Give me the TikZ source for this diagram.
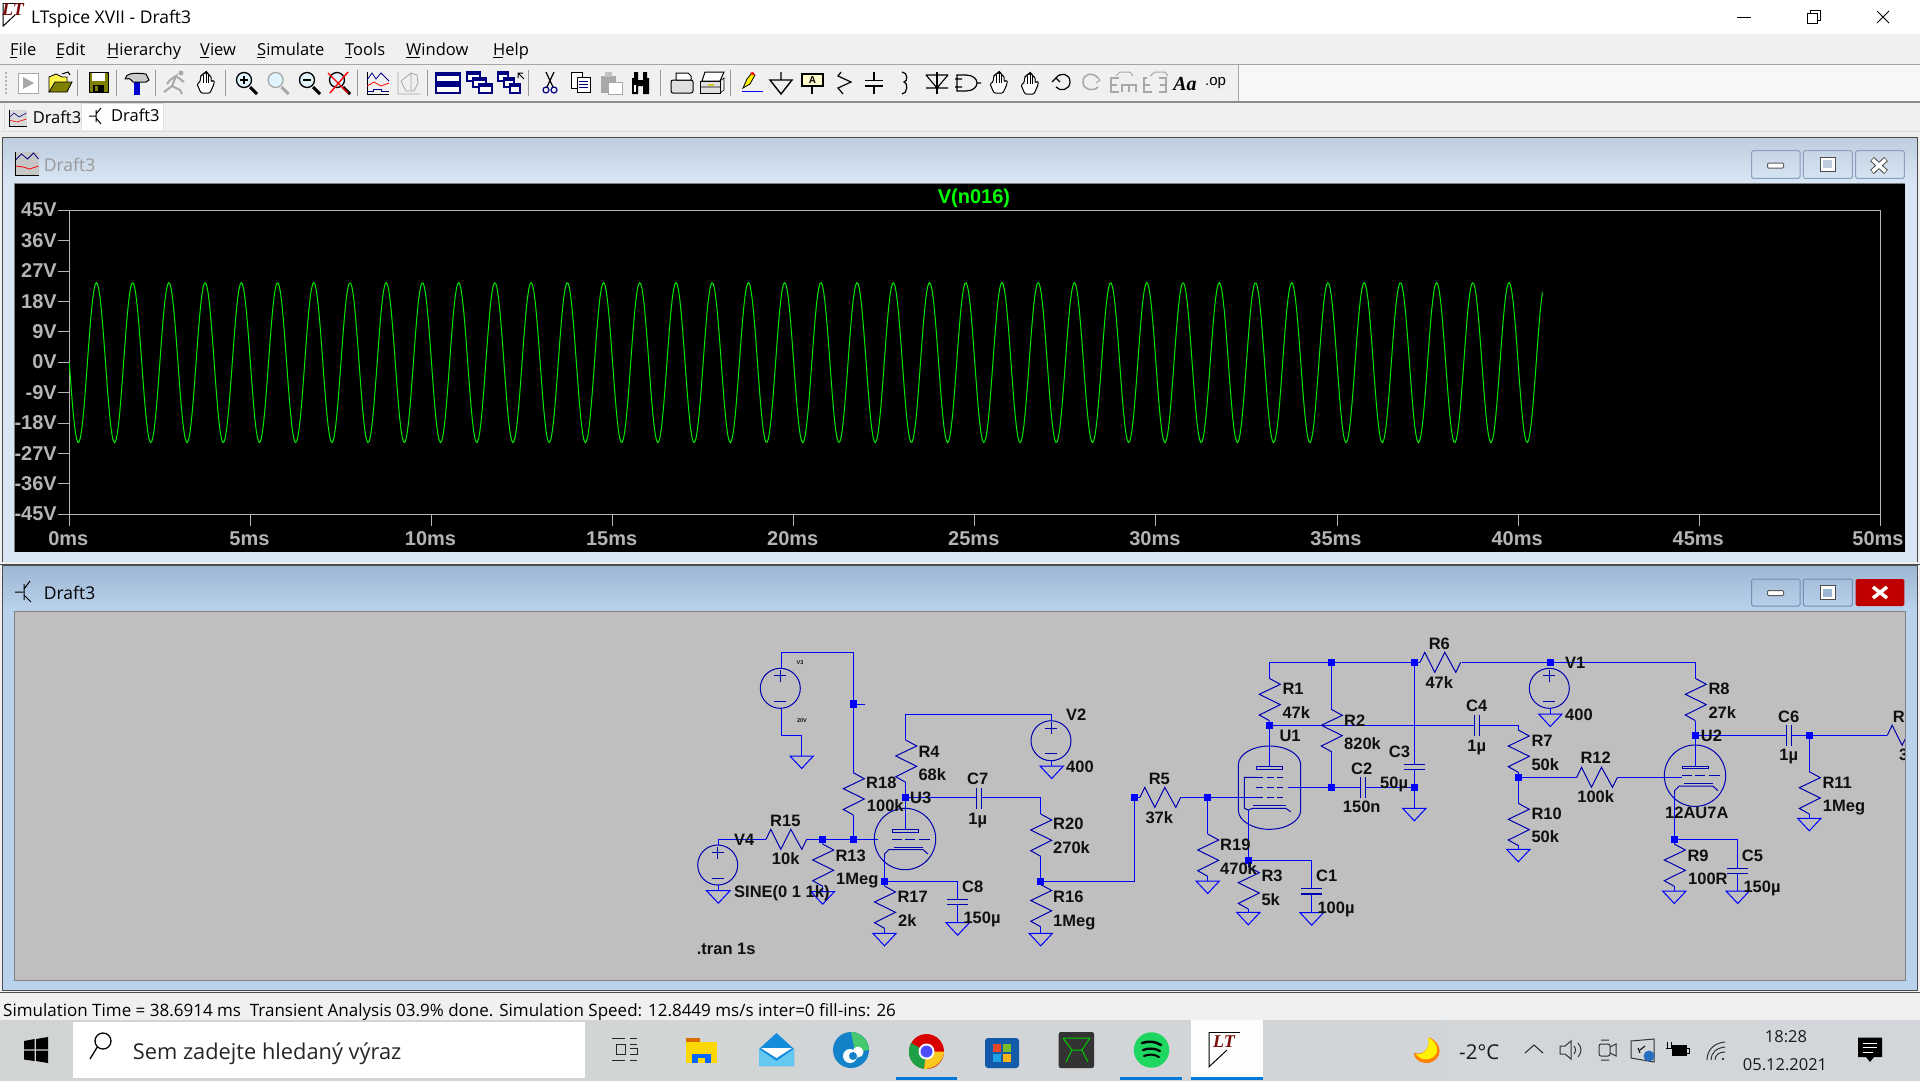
\documentclass[tikz,border=0pt]{standalone}
\usepackage{fontspec}
\setmainfont{Open Sans}
\newfontfamily\schem{Liberation Sans}[Scale=1]
\newfontfamily\serifit{Liberation Serif}
\usetikzlibrary{calc}
\definecolor{wirec}{HTML}{0000FF}
\definecolor{symc}{HTML}{0000B0}
\definecolor{txtc}{HTML}{101010}
\definecolor{chrome}{HTML}{F0F0F0}
\definecolor{axisc}{HTML}{B4B4B4}
\definecolor{navyic}{HTML}{000080}
\definecolor{ltred}{HTML}{7A0C0C}
\definecolor{olive}{HTML}{808000}
\definecolor{grayic}{HTML}{A8A8A8}
\definecolor{tba}{HTML}{BECDDE}
\definecolor{tbb}{HTML}{D8E6F4}
\definecolor{sba}{HTML}{9DB6D3}
\definecolor{sbb}{HTML}{BAD2EC}
\definecolor{btna}{HTML}{8CA0BE}
\definecolor{btnb}{HTML}{788CAF}
\definecolor{schembg}{HTML}{BFBFBF}
\definecolor{grn}{HTML}{00FF00}
\definecolor{tracec}{HTML}{00EB00}
\definecolor{winblue}{HTML}{0078D7}
\definecolor{taska}{HTML}{D0D4D4}
\definecolor{taskb}{HTML}{D2D6DA}
\definecolor{maila}{HTML}{148CDC}
\definecolor{mailb}{HTML}{64C8F0}
\definecolor{edgea}{HTML}{1482C8}
\definecolor{edgeb}{HTML}{46C86E}
\definecolor{chrg}{HTML}{1EA046}
\definecolor{chry}{HTML}{FAC81E}
\definecolor{stb}{HTML}{145AAA}
\definecolor{stc}{HTML}{EB4628}
\definecolor{std}{HTML}{78BE28}
\definecolor{ste}{HTML}{1EA0E6}
\definecolor{stf}{HTML}{FAB414}
\definecolor{spot}{HTML}{1ED760}
\definecolor{trayb}{HTML}{286EBE}
\tikzset{
  wire/.style={draw=wirec,line width=1pt},
  sym/.style={draw=symc,line width=1pt},
  lab/.style={font=\schem\bfseries\fontsize{16.5}{17}\selectfont,text=txtc,inner sep=0pt,anchor=west,text height=11.8pt,text depth=0pt},
  labc/.style={lab,anchor=center},
  tiny/.style={font=\schem\bfseries\fontsize{5.5}{6}\selectfont,text=txtc!80!black,inner sep=0pt},
  axl/.style={font=\schem\bfseries\fontsize{20}{21}\selectfont,text=axisc,inner sep=0pt,text height=14.3pt,text depth=0pt},
  ui/.style={font=\fontsize{16.5}{18}\selectfont,text=black,inner sep=0pt,anchor=west,text height=11.8pt,text depth=0pt},
  ic/.style={line width=1pt,draw=black},
  gi/.style={line width=1pt,draw=grayic},
}
\newcounter{nn}
\newcommand\tl[3]{\stepcounter{nn}\node[lab] (t\thenn) at (#1,#2) {#3};}
\newcommand\tc[3]{\stepcounter{nn}\node[labc] (t\thenn) at (#1,#2) {#3};}
\newcommand\uit[4][]{\stepcounter{nn}\node[ui,#1] (u\thenn) at (#2,#3) {#4};}
\newcommand\resv[2]{\draw[sym] (#1,#2) -- ++(11,6) -- ++(-21,10) -- ++(21,10.3) -- ++(-21,10.4) -- ++(10,5.6);}
\newcommand\resh[2]{\draw[sym] (#1,#2) -- ++(4.8,-10) -- ++(10,20) -- ++(10,-20) -- ++(11,20) -- ++(4.9,-10);}
\newcommand\gnd[2]{\draw[wire] (#1-11.7,#2) -- (#1+11.7,#2) -- (#1,#2+12.5) -- cycle;}
\newcommand\junc[2]{\fill[wirec] (#1-3.6,#2-3.6) rectangle (#1+3.6,#2+3.6);}
\newcommand\vsrc[2]{\draw[sym] (#1,#2) circle[radius=20];
  \draw[sym] (#1-6,#2-12.5) -- (#1+6,#2-12.5) (#1,#2-18.5) -- (#1,#2-6.5) (#1-6,#2+13) -- (#1+6,#2+13);}
\newcommand\capv[2]{\draw[sym] (#1-10.7,#2) -- (#1+10.7,#2) (#1-10.7,#2+5) -- (#1+10.7,#2+5);}
\newcommand\caph[2]{\draw[sym] (#1,#2-10.5) -- (#1,#2+10.5) (#1+5,#2-10.5) -- (#1+5,#2+10.5);}
\newcommand\triode[2]{% centre
  \draw[sym] (#1,#2) circle[radius=30.7];
  \draw[sym] (#1-13,#2-9.5) rectangle (#1+13.5,#2-7);
  \draw[sym] (#1-11,#2+8) -- (#1+18,#2+8);
  \draw[sym] (#1-20.5,#2+19) -- (#1-20.5,#2+15) -- (#1-16,#2+10.5) -- (#1+18,#2+10.5) -- (#1+23,#2+15);
  \draw[sym] (#1-13,#2) -- (#1-3,#2) (#1,#2) -- (#1+10,#2) (#1+14,#2) -- (#1+25,#2);}
\newcommand\magni[3]{\begin{scope}[shift={(#1,82)}]
  \draw[line width=3pt,draw=#2] (4,5) -- (11,12);
  \filldraw[fill=cyan!12,draw=#2,line width=1.3pt] (-2,-2) circle[radius=7.5];
  #3
  \end{scope}}
\newcommand\handic[2]{\begin{scope}[shift={(#1,#2)}]
  \filldraw[fill=white,draw=black,line width=1pt,rounded corners=1.2pt] (-5,10) -- (-9,1) -- (-6,-1) -- (-5,-8) -- (-3,-8) -- (-2.5,-10) -- (-.5,-10) -- (0,-11) -- (2,-10) -- (2.5,-8) -- (5,-7) -- (5,-1) -- (8,-3) -- (8,1) -- (4,10) -- cycle;
  \draw[line width=.7pt] (-2.5,-8) -- (-2.5,0) (0.5,-10) -- (0.5,0) (2.7,-8) -- (2.7,0);
  \end{scope}}
\newcommand\ltlogo[3]{\begin{scope}[shift={(#1,#2)},scale=#3]
  \draw[black,line width=1pt] (0,0) -- (0,29) -- (15,15);
  \draw[black,line width=.8pt] (0,0) -- (26,0);
  \stepcounter{nn}
  \node[inner sep=0pt,text=ltred,font=\serifit\bfseries\itshape\fontsize{18}{18}\selectfont,anchor=center] (lg\thenn) at (12.5,8) {LT};
  \end{scope}}
\begin{document}
\begin{tikzpicture}[x=1pt,y=-1pt]
\useasboundingbox (0,0) rectangle (1920,1080);
\fill[chrome] (0,0) rectangle (1920,1080);
% ---- title bar
\fill[white] (0,0) rectangle (1920,34);
\ltlogo{3}{3}{.8}
\stepcounter{nn}\node[ui,font=\fontsize{17.5}{18}\selectfont,text height=12.5pt] (title) at (31,17) {LTspice XVII - Draft3};
\draw[black,line width=1pt] (1737,17) -- (1751,17);
\draw[black,line width=1pt] (1807,13) rectangle (1817,23) (1810,13) -- (1810,10) -- (1820,10) -- (1820,20) -- (1817,20);
\draw[black,line width=1pt] (1877,11) -- (1889,23) (1889,11) -- (1877,23);
% ---- menu
\uit{10}{50}{File}\uit{56}{50}{Edit}\uit{107}{50}{Hierarchy}\uit{200}{50}{View}\uit{257}{50}{Simulate}\uit{345}{50}{Tools}\uit{406}{50}{Window}\uit{493}{50}{Help}
\draw[black,line width=.8pt] (10,57.5) -- (17,57.5) (56,57.5) -- (63,57.5) (107,57.5) -- (118,57.5) (200,57.5) -- (209,57.5) (257,57.5) -- (265,57.5) (345,57.5) -- (352,57.5) (406,57.5) -- (420,57.5) (493,57.5) -- (503,57.5);
% ---- toolbar band
\fill[white!97!black] (1238,65) rectangle (1920,101);
\draw[gray!70,line width=1pt] (0,64.5) -- (1920,64.5);
\draw[gray!90,line width=1.2pt] (0,102) -- (1920,102);
\draw[gray!70,line width=1pt] (1238,65) -- (1238,101);
\foreach \s in {77.6,116,155,225,357,427,528.6,660,730.6} \draw[gray!80,line width=1pt] (\s,70) -- (\s,96);
\foreach \s in {72,76,80,84,88,92} \fill[gray!60] (5,\s) rectangle (6.5,\s+1.5);
% run
\draw[gi,fill=white] (18,73) rectangle (38,93); \fill[grayic] (23,77) -- (34,83) -- (23,89) -- cycle;
% open
\filldraw[fill=yellow!70!white,draw=black,line width=.8pt] (49,92) -- (49,77) -- (56,74) -- (62,77) -- (67,77) -- (67,83) -- (49,92);
\filldraw[fill=olive,draw=black,line width=.8pt] (49,92) -- (55,82) -- (72,82) -- (67,92) -- cycle;
\draw[black,line width=1pt] (62,74) -- (68,72) -- (70,75);
% save
\filldraw[fill=olive,draw=black,line width=1pt] (89,72) rectangle (108,92);
\fill[white] (92,73) rectangle (105,81); \fill[black] (93,85) rectangle (104,92); \fill[olive] (95,86) rectangle (98,91);
% hammer
\fill[blue!80!black] (134,82) rectangle (140,95);
\filldraw[fill=gray!40,draw=black,line width=1pt] (125,79) .. controls (126,74) and (132,72) .. (146,74) -- (149,80) -- (146,82) -- (141,82) -- (133,82) .. controls (130,78) and (128,78) .. (125,79);
% runner
\draw[gi,line width=2pt] (170,80) -- (176,76) -- (172,86) -- (164,92) (172,86) -- (180,90) -- (182,94) (176,76) -- (184,82) (170,80) -- (167,84);
\fill[grayic] (181,73) circle[radius=2.5];
\handic{206}{83}
% magnifiers
\magni{246}{black}{\draw[black,line width=1.5pt] (-6,-2) -- (2,-2) (-2,-6) -- (-2,2);}
\magni{277.6}{grayic}{}
\magni{309}{black}{\draw[black,line width=1.5pt] (-6,-2) -- (2,-2);}
\magni{339}{black}{\draw[red,line width=1.4pt] (-11,-9) -- (9,11) (-9,11) -- (9,-10);}
% plot icons
\begin{scope}[shift={(378,83)}]
 \draw[black,line width=.8pt] (-11,11) -- (11,11) (-11,-11) -- (-11,11);
 \draw[navyic,line width=.8pt] (-11,-3) -- (-6,-10) -- (-2,-4) -- (3,-10) -- (11,-2);
 \draw[red,line width=.8pt] (-11,3) -- (-4,-1) -- (3,3) -- (11,0);
 \draw[navyic,line width=.8pt] (-11,8) -- (-5,8) -- (-5,6) -- (3,6) -- (3,8) -- (11,8);
\end{scope}
\begin{scope}[shift={(409,83)}]
 \draw[gi,line width=.8pt] (-11,11) -- (11,11) (-11,-11) -- (-11,11) (-8,-2) -- (2,-10) -- (8,-8) -- (9,0) -- (5,8) -- (-3,8) -- cycle (2,-10) -- (2,8);
\end{scope}
% windows
\foreach \a/\b in {72.5/82,83.5/93} {\filldraw[fill=white,draw=navyic,line width=1.6pt] (436,\a) rectangle (460,\b); \fill[navyic] (436,\a) rectangle (460,\a+3);}
\foreach \dx/\dy in {0/0,6/6,12/12} {\filldraw[fill=white,draw=navyic,line width=1.2pt] (467+\dx,72+\dy) rectangle (480+\dx,81+\dy); \fill[navyic] (467+\dx,72+\dy) rectangle (480+\dx,75+\dy);}
\foreach \dx/\dy in {0/0,6/6,12/12} {\filldraw[fill=white,draw=navyic,line width=1.2pt] (498+\dx,72+\dy) rectangle (508+\dx,81+\dy); \fill[navyic] (498+\dx,72+\dy) rectangle (508+\dx,75+\dy);}
\draw[black,line width=1pt] (518,78) -- (518,73) -- (523,73) (518,73) -- (524,79);
% scissors
\draw[black,line width=1.2pt] (546,72) -- (553,87) (554,72) -- (547,87);
\draw[navyic,line width=1.2pt] (546,90) circle[radius=3] (554,90) circle[radius=3];
% copy, paste
\filldraw[fill=white,draw=black,line width=1pt] (571,72) rectangle (582,88);
\filldraw[fill=white,draw=black,line width=1pt] (577,77) rectangle (590,92);
\draw[navyic,line width=.8pt] (579,81) -- (588,81) (579,84) -- (588,84) (579,87) -- (588,87);
\fill[grayic] (601,76) rectangle (616,93); \fill[grayic!70] (605,72) rectangle (612,77);
\filldraw[fill=white,draw=grayic] (608,82) rectangle (622,94);
% binoculars
\fill[black] (632,78) rectangle (638,94) (643,78) rectangle (649,94) (634,72) rectangle (638,79) (643,72) rectangle (647,79) (638,80) rectangle (643,86);
\fill[white] (634,85) rectangle (635.5,92);
% printers
\filldraw[fill=gray!25,draw=black,line width=1pt,rounded corners=2pt] (671,80) rectangle (693,93);
\filldraw[fill=white,draw=black,line width=1pt] (676,73) -- (688,73) -- (691,76) -- (691,80) -- (676,80) -- cycle;
\filldraw[fill=gray!25,draw=black,line width=1pt] (700,81) rectangle (720,93);
\filldraw[fill=white,draw=black,line width=1pt] (705,72) -- (724,72) -- (720,81) -- (702,81) -- cycle;
\draw[black,line width=.6pt] (720,81) -- (724,78) -- (724,90) -- (720,93) (700,87) -- (720,87);
\fill[yellow!80!black] (708,84) rectangle (714,85.5);
% pencil, ground, label
\draw[blue,line width=1pt] (742,91.5) -- (763,91.5);
\filldraw[fill=yellow,draw=black,line width=.8pt] (743,88) -- (747,79) -- (752,73) -- (755,75) -- (750,84) -- cycle;
\fill[red] (750,73) -- (753,72) -- (755,75) -- (752,74.5) -- cycle;
\draw[black,line width=1.4pt] (781,72) -- (781,80) (770,80) -- (792,80) -- (781,94) -- cycle;
\filldraw[fill=white!80!yellow,draw=black,line width=1.4pt] (802,74) rectangle (823,86);
\draw[black,line width=1.2pt] (812,86) -- (812,94);
\node[inner sep=0pt,font=\schem\bfseries\fontsize{10}{10}\selectfont] (iconA) at (812.5,80) {A};
% R, C, L
\draw[black,line width=1.2pt] (841,72) -- (838,76) -- (851,82) -- (838,88) -- (843,94);
\draw[black,line width=1.2pt] (874,72) -- (874,80) (865,80.5) -- (883,80.5) (865,86) -- (883,86) (874,86) -- (874,94);
\draw[black,line width=1.2pt] (902,72) .. controls (908,72) and (908,82) .. (904,82) .. controls (908,82) and (908,94) .. (902,94);
% diode, gate
\draw[black,line width=1.2pt] (937,72) -- (937,94);
\draw[black,line width=1.1pt] (926,75) -- (948,75) (926,75) -- (937,88) -- (948,75) (926,88) -- (948,88);
\draw[black,line width=1.2pt] (957,75) -- (966,75) .. controls (973,75) and (977,79) .. (977,83) .. controls (977,87) and (973,91) .. (966,91) -- (957,91) -- cycle (977,83) -- (981,83) (955,79) -- (962,79) (955,87) -- (962,87);
\handic{999}{83}\handic{1030}{84}
% undo redo
\draw[black,line width=1.2pt] (1056,78) .. controls (1060,72) and (1070,73) .. (1070,82) .. controls (1070,90) and (1060,92) .. (1056,87);
\draw[black,line width=1.2pt] (1052,82) -- (1056,78) -- (1060,82);
\draw[gi,line width=1.5pt] (1098,78) .. controls (1093,72) and (1083,73) .. (1083,82) .. controls (1083,90) and (1093,92) .. (1098,87);
\draw[gi] (1096,76) -- (1100,80) -- (1096,83);
% E icons
\draw[gi,line width=2pt] (1119,78) -- (1111,78) -- (1111,92) -- (1119,92) (1111,85) -- (1117,85) (1122,92) -- (1122,85) -- (1136,85) -- (1136,92) (1129,85) -- (1129,92);
\draw[gi] (1116,76) -- (1120,72) -- (1130,72) -- (1133,76);
\draw[gi,line width=2pt] (1147,78) -- (1144,78) -- (1144,92) -- (1152,92) (1144,85) -- (1150,85) (1159,78) -- (1166,78) -- (1166,92) -- (1159,92) (1160,85) -- (1166,85);
\draw[gi] (1150,76) -- (1155,72) -- (1165,72) -- (1168,76);
\stepcounter{nn}\node[inner sep=0pt,font=\serifit\bfseries\itshape\fontsize{20}{20}\selectfont] (iconAa) at (1185,84) {Aa};
\stepcounter{nn}\node[inner sep=0pt,font=\schem\fontsize{15}{15}\selectfont] (iconop) at (1215.5,83) {.op};
% ---- tabs
\fill[chrome] (0,103) rectangle (1920,136);
\fill[white!92!chrome] (81.6,103) rectangle (163,130);
\draw[gray!30,line width=1pt] (4,103) -- (4,130) (0,131) -- (1920,131);
\draw[gray!25,line width=1pt] (81.6,103) -- (81.6,130) (163,103) -- (163,131) (81.6,103) -- (163,103);
\begin{scope}[shift={(9,110)}]
 \fill[gray!30] (0,0) rectangle (17.5,16);
 \draw[navyic,line width=.6pt] (0,8) -- (5,3) -- (10,7) -- (17.5,3);
 \draw[red,line width=.6pt] (0,10) -- (8,12) -- (17.5,9);
 \draw[black,line width=.8pt] (0,0) -- (0,16) -- (17.5,16);
\end{scope}
\uit{32.6}{118}{Draft3}\uit{111}{116}{Draft3}
\draw[black,line width=1pt] (89,116) -- (96,116) (96,110) -- (96,122) (96,114) -- (101,108) (96,118) -- (101,124);
% ---- MDI panes
\fill[white!85!gray] (0,134) rectangle (1920,137);
% plot pane
\shade[top color=tba,bottom color=tbb] (2,137) rectangle (1917,183);
\fill[tbb] (2,183) rectangle (1917,562);
\draw[black!70,line width=1pt] (2,562) -- (2,137) -- (1917,137) -- (1917,562);
\draw[black!70,line width=1pt] (0,564) -- (1920,564);
\begin{scope}[shift={(15.5,152)}]
 \fill[gray!45] (0,0) rectangle (23,23);
 \draw[navyic,line width=.8pt] (0,8) -- (6,2) -- (12,7) -- (18,1) -- (23,7);
 \draw[red,line width=.8pt] (0,14) -- (8,15) -- (14,17) -- (23,14);
 \draw[black,line width=1pt] (0,0) -- (0,23) -- (23,23);
\end{scope}
\uit[font=\fontsize{17.5}{18}\selectfont,text=black!40,text height=12.5pt]{43.7}{165}{Draft3}
\foreach \a/\b in {1751.7/1800,1803.3/1852.3,1855.7/1904.3} \draw[btna,rounded corners=1.5pt,line width=1pt] (\a,150.7) rectangle (\b,178.3);
\filldraw[fill=white,draw=gray!70!black,line width=1pt,rounded corners=1pt] (1767.5,163) rectangle (1783.5,168);
\filldraw[fill=white,draw=gray!60!black,line width=1pt] (1820,157) rectangle (1835,171);
\fill[tba] (1823,160) rectangle (1832,168);
\draw[gray!60!black,line width=5.5pt] (1872,159) -- (1886,172) (1886,159) -- (1872,172);
\draw[white,line width=3.5pt] (1872.5,159.5) -- (1885.5,171.5) (1885.5,159.5) -- (1872.5,171.5);
% black plot
\fill[black] (14,183) rectangle (1905,552);
\draw[gray,line width=1pt] (14,183) -- (14,552);
\draw[gray,line width=1pt] (14,183) -- (1905,183);
\draw[axisc,line width=1pt] (69.3,210.3) rectangle (1880.3,514.3);
\foreach \i/\t in {0/45V,1/36V,2/27V,3/18V,4/9V,5/0V,6/-9V,7/-18V,8/-27V,9/-36V,10/-45V} {
  \draw[axisc,line width=1pt] (58.3,210.3+30.4*\i) -- (69.3,210.3+30.4*\i);
  \node[axl,anchor=east] (yl\i) at (57,209.8+30.4*\i) {\t};
}
\foreach \i/\t in {0/0ms,1/5ms,2/10ms,3/15ms,4/20ms,5/25ms,6/30ms,7/35ms,8/40ms,9/45ms} {
  \draw[axisc,line width=1pt] (69.3+181.1*\i,514.3) -- (69.3+181.1*\i,525.7);
  \node[axl] (xl\i) at (68.3+181.1*\i,538) {\t};
}
\draw[axisc,line width=1pt] (1880.3,514.3) -- (1880.3,525.7);
\node[axl] (xl10) at (1878,538) {50ms};
\node[axl,text=grn] (ptitle) at (974,196) {V(n016)};
\draw[tracec,line width=1pt] plot[domain=0:40.676,samples=1200] ({69.3+36.22*\x},{362.6+80*sin(360*\x)});
% schematic pane
\shade[top color=sba,bottom color=sbb] (2,565) rectangle (1917,611);
\fill[sbb] (2,611) rectangle (1917,990);
\draw[black!70,line width=1pt] (2,990) -- (2,565) -- (1917,565) -- (1917,990) -- cycle;
\draw[black!70,line width=1pt] (0,992) -- (1920,992);
\draw[black,line width=1pt] (15,592) -- (23,592) (24,584) -- (24,600) (24,589) -- (30,581) (24,595) -- (31,602);
\uit[font=\fontsize{17.5}{18}\selectfont,text height=12.5pt]{43.7}{593}{Draft3}
\foreach \a/\b in {1751.7/1800,1803.3/1852.3} \draw[btnb,rounded corners=1.5pt,line width=1pt] (\a,579) rectangle (\b,606);
\fill[red!75!black,rounded corners=1.5pt] (1855.7,579) rectangle (1904.3,606);
\filldraw[fill=white,draw=gray!70!black,line width=1pt,rounded corners=1pt] (1767.5,590.5) rectangle (1783.5,595.5);
\filldraw[fill=white,draw=gray!60!black,line width=1pt] (1820,585.5) rectangle (1835,599.5);
\fill[sba] (1823,588.5) rectangle (1832,596.5);
\draw[white,line width=3.5pt] (1873,587) -- (1887,598) (1887,587) -- (1873,598);
\begin{scope}
\clip (14,611) rectangle (1905,980);
\fill[schembg] (14,611) rectangle (1905,980);
\draw[gray,line width=1pt] (14,611) -- (1905,611) (14,611) -- (14,980);
% ===== section 1
\vsrc{780.3}{688.3}
\draw[wire] (781,668.3) -- (781,652.3) -- (853.3,652.3) -- (853.3,772.7);
\draw[wire] (781,708.3) -- (781,735.7) -- (801.7,735.7) -- (801.7,756);
\gnd{801.7}{756}
\junc{853.3}{704}\draw[wire] (853.3,704) -- (865,704);
\resv{853.3}{772.7}
\draw[wire] (853.3,815) -- (853.3,839.3);
\junc{853.3}{839.3}
\resv{905.7}{740}
\draw[wire] (905.7,782.3) -- (905.7,829);
\draw[wire] (905.7,740) -- (905.7,714.3) -- (1051.7,714.3) -- (1051.7,720.7);
\vsrc{1051}{740.7}
\draw[wire] (1051.7,760.7) -- (1051.7,766); \gnd{1051.7}{766}
\junc{905.7}{797.7}
\draw[wire] (905.7,797.7) -- (976,797.7) (981,797.7) -- (1040.7,797.7) -- (1040.7,814);
\caph{976}{798}
\resv{1040.7}{814}
\draw[wire] (1040.7,856) -- (1040.7,881.7) -- (1134.3,881.7) -- (1134.3,797.7);
\junc{1040.7}{881.7}\junc{1134.3}{797.5}
\resv{1040.7}{884.5}
\draw[wire] (1040.7,926.5) -- (1040.7,933.3); \gnd{1040.7}{933.3}
\vsrc{717.7}{865}
\draw[wire] (718.3,845) -- (718.3,839.3) -- (766,839.3);
\resh{766}{839.3}
\draw[wire] (806.7,839.3) -- (878,839.3);
\junc{822.7}{839.3}
\draw[wire] (718.3,885) -- (718.3,890.7); \gnd{718.3}{890.7}
\resv{822.7}{844}
\draw[wire] (822.7,839.3) -- (822.7,844) (822.7,886) -- (822.7,891.7); \gnd{822.7}{891.7}
\triode{905}{839}
\draw[wire] (884.5,858) -- (884.5,881.7) -- (957.7,881.7) -- (957.7,899.3) (957.7,904.3) -- (957.7,922.7);
\junc{884.5}{881.7}
\capv{957.7}{899.3}\gnd{957.7}{922.7}
\resv{884.5}{886}
\draw[wire] (884.5,881.7) -- (884.5,886) (884.5,928) -- (884.5,933.3); \gnd{884.5}{933.3}
% ===== section 2
\resh{1140}{797.3}
\draw[wire] (1134.3,797.3) -- (1140,797.3) (1181,797.3) -- (1256,797.3) (1207.7,797.3) -- (1207.7,834);
\junc{1207.7}{797.3}
\resv{1207.7}{834}
\draw[wire] (1207.7,876) -- (1207.7,881); \gnd{1207.7}{881}
\draw[sym] (1238.3,765) .. controls (1238.3,754) and (1253,746) .. (1269.3,746) .. controls (1286,746) and (1300.7,754) .. (1300.7,765) -- (1300.7,810) .. controls (1300.7,821) and (1286,829.3) .. (1269.3,829.3) .. controls (1253,829.3) and (1238.3,821) .. (1238.3,810) -- cycle;
\draw[sym] (1256,766.3) rectangle (1282.7,769.3);
\draw[wire] (1269.3,725.3) -- (1269.3,766.3);
\foreach \yy in {777.3,787.7,797.3} \draw[sym] (1256,\yy) -- (1263.3,\yy) (1266.7,\yy) -- (1274,\yy) (1276.7,\yy) -- (1283.3,\yy);
\draw[sym] (1256,777.3) -- (1244.3,777.3) -- (1244.3,808.3) -- (1248.3,810);
\draw[sym] (1253.3,805.7) -- (1286,805.7);
\draw[sym] (1248.3,810) -- (1252.7,808.3) -- (1285.7,808.3) -- (1290.7,811.7);
\draw[wire] (1248.3,810) -- (1248.3,866.7);
\junc{1248.3}{860.7}
\draw[wire] (1248.3,860.7) -- (1311.7,860.7) -- (1311.7,888.3) (1311.7,894.3) -- (1311.7,912.7);
\capv{1311.7}{888.6}\draw[sym] (1301,894.3) -- (1322.4,894.3);
\gnd{1311.7}{912.7}
\resv{1248.3}{866.7}
\draw[wire] (1248.3,908.5) -- (1248.3,912.3); \gnd{1248.3}{912.3}
\resv{1269.3}{678.3}
\draw[wire] (1269.3,678.3) -- (1269.3,662.3) -- (1420,662.3) (1461.7,662.3) -- (1695.3,662.3) -- (1695.3,678.3);
\junc{1331.3}{662.3}\junc{1414.3}{662.3}
\resh{1420}{662.3}
\junc{1269.3}{725.3}
\draw[wire] (1269.3,720.6) -- (1269.3,725.3);
\draw[wire] (1269.3,725.3) -- (1474.3,725.3) (1479.3,725.3) -- (1518.3,725.3) -- (1518.3,730);
\caph{1474.3}{725.3}
\draw[wire] (1331.3,662.3) -- (1331.3,709.3) (1331.3,751.3) -- (1331.3,787.7);
\resv{1331.3}{709.3}
\junc{1331.3}{787.7}\junc{1414.3}{787.7}
\draw[wire] (1287.7,787.7) -- (1360.7,787.7) (1365.7,787.7) -- (1414.3,787.7);
\caph{1360.7}{787.7}
\draw[wire] (1414.3,662.3) -- (1414.3,764.3) (1414.3,769.3) -- (1414.3,808.3);
\capv{1414.3}{764.3}\gnd{1414.3}{808.3}
% ===== section 3
\junc{1550.3}{662.3}
\vsrc{1549.3}{688.3}
\draw[wire] (1550.3,708.3) -- (1550.3,714); \gnd{1550.3}{714}
\resv{1695.3}{678.3}
\draw[wire] (1695.3,720.6) -- (1695.3,766.3);
\junc{1695.3}{735.3}
\draw[wire] (1695.3,735.3) -- (1786.7,735.3) (1791.7,735.3) -- (1887.3,735.3);
\caph{1786.7}{735.3}
\junc{1809.3}{735.3}
\resh{1887.3}{735.3}
\draw[wire] (1809.3,735.3) -- (1809.3,771.7);
\resv{1809.3}{771.7}
\draw[wire] (1809.3,813.7) -- (1809.3,818.3); \gnd{1809.3}{818.3}
\triode{1695}{775.7}
\draw[wire] (1518.3,777.3) -- (1576.7,777.3) (1617.7,777.3) -- (1682,777.3);
\resh{1576.7}{777.3}
\junc{1518.3}{777.3}
\resv{1518.3}{730}
\draw[wire] (1518.3,772) -- (1518.3,803.3);
\resv{1518.3}{803.3}
\draw[wire] (1518.3,845.3) -- (1518.3,849.3); \gnd{1518.3}{849.3}
\draw[wire] (1674.3,794.7) -- (1674.3,844) (1674.3,839.3) -- (1737.7,839.3) -- (1737.7,868.3) (1737.7,873.3) -- (1737.7,891);
\junc{1674.3}{839.3}
\capv{1737.7}{868.3}\gnd{1737.7}{891}
\resv{1674.3}{844}
\draw[wire] (1674.3,886) -- (1674.3,891); \gnd{1674.3}{891}
% ===== labels
\stepcounter{nn}\node[tiny] (lv3) at (800,662.7) {V3};
\stepcounter{nn}\node[tiny] (l20v) at (802,720.7) {20V};
\tl{918.3}{752}{R4}\tl{918.3}{774.7}{68k}
\tl{866}{782.7}{R18}\tl{866.7}{805.7}{100k}
\tl{910}{797.7}{U3}
\tc{977.7}{778.7}{C7}\tc{977.7}{818.3}{1µ}
\tl{1053}{823.7}{R20}\tl{1053}{847.7}{270k}
\tl{1053}{896.7}{R16}\tl{1053}{921}{1Meg}
\tl{835.3}{855.7}{R13}\tl{836}{879}{1Meg}
\tc{785.3}{820.7}{R15}\tc{785.7}{859}{10k}
\tl{734}{839.3}{V4}\tl{734}{891.7}{SINE(0 1 1k)}
\tl{1066}{715}{V2}\tl{1066}{766.7}{400}
\tl{897.3}{896.7}{R17}\tl{898}{921}{2k}
\tl{962}{886.7}{C8}\tl{963.3}{917.7}{150µ}
\tl{696.7}{949}{.tran 1s}
\tc{1159.3}{778.7}{R5}\tc{1159.3}{817.7}{37k}
\tl{1220}{845}{R19}\tl{1220}{868.3}{470k}
\tl{1282.3}{688.7}{R1}\tl{1282.3}{712.7}{47k}
\tc{1439.3}{643.3}{R6}\tc{1439.3}{682.7}{47k}
\tl{1344}{720.7}{R2}\tl{1344}{744}{820k}
\tl{1388.7}{751.7}{C3}\tl{1380}{782.7}{50µ}
\tc{1361.7}{768.7}{C2}\tc{1361.7}{806.7}{150n}
\tl{1261.3}{875.7}{R3}\tl{1261.3}{900}{5k}
\tl{1316}{875.7}{C1}\tl{1317.3}{908}{100µ}
\tl{1279.3}{735.7}{U1}
\tc{1476.7}{706}{C4}\tc{1476.7}{745.3}{1µ}
\tl{1565}{662.7}{V1}\tl{1565}{714.7}{400}
\tl{1700.7}{735.7}{U2}
\tl{1708.3}{688.7}{R8}\tl{1708.3}{712.7}{27k}
\tc{1788.7}{716.7}{C6}\tc{1788.7}{755}{1µ}
\tl{1822.3}{782.7}{R11}\tl{1822.7}{806}{1Meg}
\tl{1687.3}{855.7}{R9}\tl{1688}{879}{100R}
\tl{1741.7}{855.7}{C5}\tl{1743.3}{886.7}{150µ}
\tl{1665}{812.7}{12AU7A}
\tc{1595.7}{757.7}{R12}\tc{1595.7}{796.7}{100k}
\tl{1531.3}{740.7}{R7}\tl{1531.3}{764.7}{50k}
\tl{1531.3}{813.3}{R10}\tl{1531.3}{837}{50k}
\tl{1892.7}{716.7}{R1}\tl{1899}{755}{3}
\end{scope}
\draw[gray,line width=1pt] (14,980) -- (1905,980) -- (1905,611);
% ---- status bar
\fill[chrome] (0,993) rectangle (1920,1020);
\uit[font=\fontsize{17}{18}\selectfont]{3}{1010.7}{Simulation Time = 38.6914 ms\ \ Transient Analysis 03.9\% done. Simulation Speed: 12.8449 ms/s inter=0 fill-ins: 26}
% ---- taskbar
\shade[left color=taska,right color=taskb] (0,1020) rectangle (1920,1080);
\fill[white] (73,1022) rectangle (585,1078);
\uit[font=\fontsize{21.8}{23}\selectfont,text=black!85,text height=15.5pt]{132.7}{1051.7}{Sem zadejte hledaný výraz}
\draw[black,line width=1.3pt] (103,1041) circle[radius=8] (97,1047.5) -- (90,1059);
\fill[black] (24,1041) -- (34.5,1039) -- (34.5,1049.3) -- (24,1049.3) -- cycle (36,1039) -- (48,1037) -- (48,1049.3) -- (36,1049.3) -- cycle (24,1050.7) -- (34.5,1050.7) -- (34.5,1061) -- (24,1059.5) -- cycle (36,1050.7) -- (48,1050.7) -- (48,1063) -- (36,1061) -- cycle;
% task view
\draw[black!85,line width=1pt] (612,1038) -- (625,1038) (612,1060) -- (625,1060) (616,1044) rectangle (625,1054) (630,1044) -- (637,1044) (630,1048) -- (637,1048) -- (637,1054) -- (630,1054) (630,1038) -- (637,1038) (630,1060) -- (637,1060);
% explorer
\fill[orange!85!black] (686,1038) rectangle (700,1046);
\fill[yellow!75!orange] (686,1042) rectangle (717,1063);
\fill[blue!60!cyan] (692,1054) rectangle (711,1063); \fill[yellow!75!orange] (698,1058) rectangle (705,1063);
% mail
\fill[maila] (759,1049) -- (776.5,1033) -- (794,1049) -- (794,1066) -- (759,1066) -- cycle;
\fill[white] (761,1048) -- (792,1048) -- (776.5,1058) -- cycle;
\fill[mailb] (759,1049) -- (776.5,1061) -- (794,1049) -- (794,1066) -- (759,1066) -- cycle;
% edge
\fill[edgea] (851,1050) circle[radius=18];
\fill[edgeb] (851,1032) .. controls (860,1032) and (869,1040) .. (869,1050) -- (855,1052) -- cycle;
\fill[white!90!chrome] (858,1052) circle[radius=5.5];
\fill[white!90!chrome] (850,1056) circle[radius=7];
\fill[edgea] (853,1056) circle[radius=4];
% chrome
\fill[red!85!black] (926.5,1051.5) circle[radius=17.5];
\fill[chrg] (926.5,1051.5) -- (911,1043) .. controls (905,1055) and (912,1067) .. (924,1069) -- cycle;
\fill[chry] (926.5,1051.5) -- (944,1051.5) .. controls (944,1060) and (936,1069) .. (924,1069) -- cycle;
\fill[white] (926.5,1051.5) circle[radius=8];
\fill[blue!70] (926.5,1051.5) circle[radius=6];
\fill[winblue] (896,1077) rectangle (957,1080);
% store
\fill[stb,rounded corners=3pt] (985,1038) rectangle (1019,1068);
\fill[stc] (993,1044) rectangle (1001,1052);
\fill[std] (1003,1044) rectangle (1011,1052);
\fill[ste] (993,1054) rectangle (1001,1062);
\fill[stf] (1003,1054) rectangle (1011,1062);
% terminal
\fill[black!80,rounded corners=2pt] (1058.7,1032) rectangle (1094,1068);
\draw[green!80!black,line width=1pt] (1063,1038) -- (1072,1050) -- (1066,1062) (1090,1038) -- (1082,1050) -- (1088,1062) (1064,1038) -- (1090,1038) (1072,1050) -- (1082,1050);
% spotify
\fill[spot] (1151.5,1050) circle[radius=17.7];
\draw[black,line width=2.5pt,line cap=round] (1142,1043) .. controls (1148,1041) and (1155,1041) .. (1161,1045);
\draw[black,line width=2.3pt,line cap=round] (1143,1050) .. controls (1148,1048) and (1155,1048) .. (1160,1051);
\draw[black,line width=2pt,line cap=round] (1144,1056) .. controls (1149,1054) and (1154,1054) .. (1159,1057);
\fill[winblue] (1120,1077) rectangle (1182,1080);
% ltspice active
\fill[white!90!chrome] (1190.7,1020) rectangle (1263,1077);
\fill[winblue] (1190.7,1077) rectangle (1263,1080);
\ltlogo{1209}{1032}{1.2}
% tray
\fill[orange] (1428,1037) .. controls (1443,1042) and (1444,1060) .. (1428,1063) .. controls (1418,1063) and (1414,1058) .. (1414,1053) .. controls (1424,1056) and (1431,1047) .. (1428,1037);
\fill[yellow] (1428,1037) .. controls (1440,1044) and (1440,1056) .. (1429,1059) .. controls (1423,1061) and (1418,1057) .. (1416,1054) .. controls (1424,1056) and (1431,1047) .. (1428,1037);
\uit[font=\fontsize{20.5}{21}\selectfont,text=black!90,text height=14.7pt]{1459}{1052}{-2°C}
\draw[black!85,line width=1pt] (1525,1053) -- (1534,1045) -- (1543,1053);
\draw[black!80,line width=1pt] (1560,1046) -- (1565,1046) -- (1571,1041) -- (1571,1059) -- (1565,1054) -- (1560,1054) -- cycle (1574,1046) .. controls (1576,1049) and (1576,1051) .. (1574,1054) (1578,1043) .. controls (1582,1048) and (1582,1052) .. (1578,1057);
\draw[black!80,line width=1pt,rounded corners=2pt] (1599,1044) rectangle (1610,1056);
\draw[black!80,line width=1pt] (1610,1047) -- (1616,1044) -- (1616,1056) -- (1610,1053) (1601,1040) -- (1609,1040) (1601,1060) -- (1609,1060);
\draw[black!80,line width=1pt] (1631,1041) -- (1654,1039) -- (1654,1062) -- (1631,1058) -- cycle;
\fill[trayb] (1649,1056) circle[radius=5.5];
\draw[black,line width=1pt] (1640,1050) -- (1645,1046) (1640,1053) -- (1638,1048);
\fill[black] (1672,1045) rectangle (1687,1056);
\draw[black,line width=1pt] (1667,1042) -- (1667,1048) (1671,1042) -- (1671,1048) (1666,1048) -- (1672,1048) -- (1672,1050) (1687,1048) -- (1689.5,1048) -- (1689.5,1053) -- (1687,1053);
\draw[black!80,line width=1pt] (1707,1060) .. controls (1707,1050) and (1714,1043) .. (1725,1042) (1711,1060) .. controls (1711,1053) and (1716,1048) .. (1725,1047) (1715,1060) .. controls (1715,1055) and (1719,1052) .. (1725,1052);
\fill[black] (1723,1059) circle[radius=1.2];
\uit[anchor=center,text=black!90]{1786}{1036.7}{18:28}
\uit[anchor=center,text=black!90]{1785}{1064.3}{05.12.2021}
\fill[black] (1858,1037.7) rectangle (1882,1057) (1866,1057) -- (1874,1057) -- (1870,1062) -- cycle;
\draw[white,line width=1pt] (1863,1043) -- (1877,1043) (1863,1047.5) -- (1877,1047.5) (1863,1052) -- (1873,1052);
\end{tikzpicture}
\end{document}
